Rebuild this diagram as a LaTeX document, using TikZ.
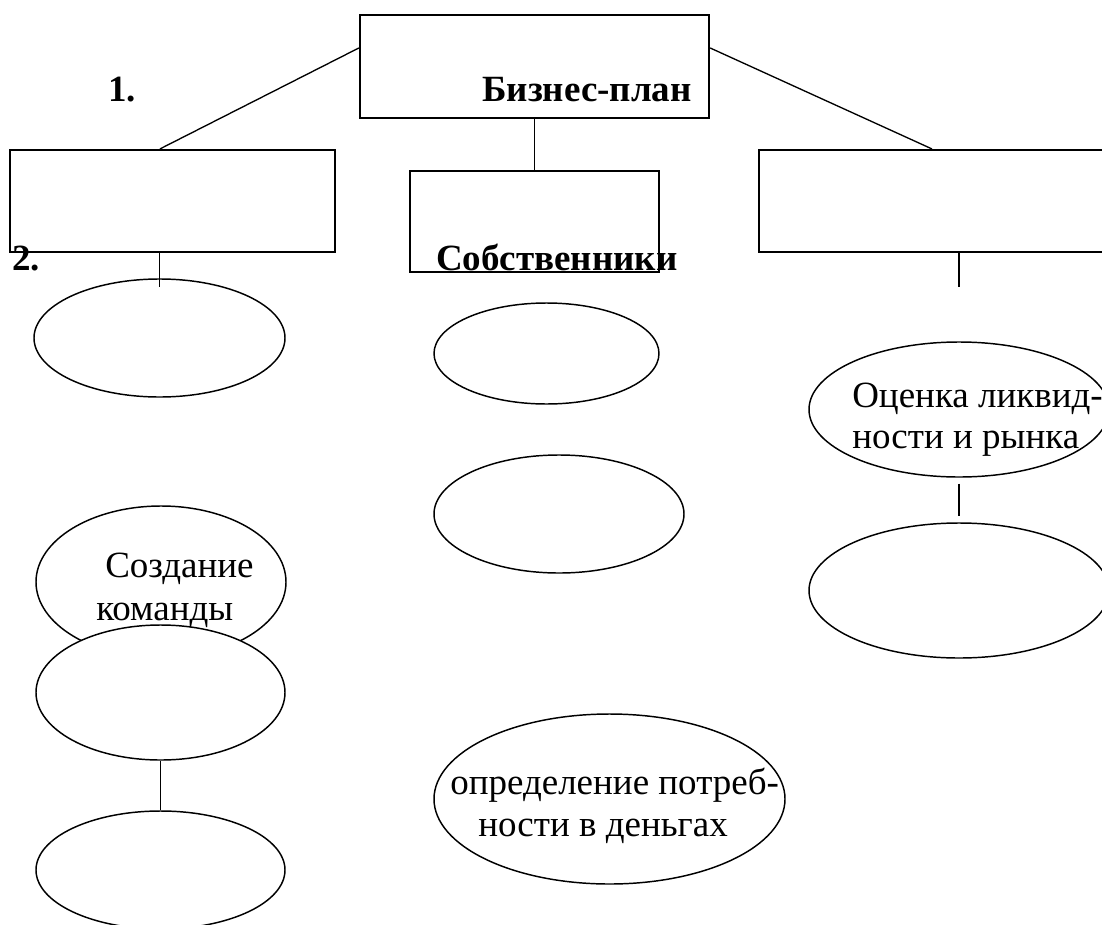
\documentclass[tikz,border=0pt]{standalone}
\usepackage{fontspec}
\setmainfont{Liberation Serif}
\usetikzlibrary{shapes.geometric,calc}
\begin{document}
\begin{tikzpicture}[x=0.75pt,y=-0.75pt,
  boxnode/.style={draw,line width=1.6pt,rectangle,inner sep=0pt},
  ell/.style={draw,line width=1.1pt,ellipse,inner sep=0pt,fill=white},
  conn/.style={line width=1pt},
  txt/.style={inner sep=0pt,font=\fontsize{27.75}{32}\selectfont},
  btxt/.style={inner sep=0pt,font=\fontsize{27.75}{32}\selectfont\bfseries}]
\useasboundingbox (0,0) rectangle (1102,924);
\clip (0,0) rectangle (1102,924);
% boxes
\node[boxnode,minimum width=261.75pt,minimum height=77.25pt] (top) at (534.5,66.5) {};
\node[boxnode,minimum width=243.75pt,minimum height=76.5pt] (lbox) at (172.5,201) {};
\node[boxnode,minimum width=186.75pt,minimum height=75.75pt] (mbox) at (534.5,221.5) {};
\node[boxnode,minimum width=263.25pt,minimum height=76.5pt] (rbox) at (934.5,201) {};
% ellipses
\node[ell,minimum width=188.25pt,minimum height=88.5pt] (E1) at (159.5,338) {};
\node[ell,minimum width=168.75pt,minimum height=75.75pt] (E2) at (546.5,353.5) {};
\node[ell,minimum width=225pt,minimum height=101.25pt] (E3) at (959,409.5) {};
\node[ell,minimum width=187.5pt,minimum height=88.5pt] (E4) at (559,514) {};
\node[ell,minimum width=187.5pt,minimum height=114pt] (E5) at (161,582) {};
\node[ell,minimum width=186.75pt,minimum height=101.25pt] (E6) at (160.5,692.5) {};
\node[ell,minimum width=186.75pt,minimum height=88.5pt] (E7) at (160.5,870) {};
\node[ell,minimum width=225pt,minimum height=101.25pt] (E8) at (959,590.5) {};
\node[ell,minimum width=263.25pt,minimum height=127.5pt] (E9) at (609.5,799) {};
% connectors
\draw[conn] ($(top.north west)+(0,34)$) -- ($(lbox.north west)+(151,0)$);
\draw[conn] ($(top.north east)+(0,34)$) -- ($(rbox.north west)+(174,0)$);
\draw[conn] (top.south) -- (mbox.north);
\draw[conn] (lbox.south -| E1.north) -- ++(0,34);
\draw[conn] (rbox.south -| E3.north) -- ++(0,34);
\draw[conn] ($(E3.south)+(0,6)$) -- ($(E8.north)+(0,-6)$);
\draw[conn] (E6.south) -- (E7.north);
% texts
\node[btxt,anchor=base west] (n1) at (108,101) {1.};
\node[btxt,anchor=base east] (tbp) at (692,101) {Бизнес-план};
\node[btxt,anchor=base west] (n2) at (12,270) {2.};
\node[btxt,anchor=base west] (tsob) at (436,270) {Собственники};
\node[txt,anchor=base west] (t5a) at (105,577) {Создание};
\node[txt,anchor=base west] (t5b) at (96,620) {команды};
\node[txt,anchor=base west] (t3a) at (852,407) {Оценка ликвид-};
\node[txt,anchor=base west] (t3b) at (852,448) {ности и рынка};
\node[txt,anchor=base west] (t9a) at (450,794) {определение потреб-};
\node[txt,anchor=base west] (t9b) at (478,836) {ности в деньгах};
\end{tikzpicture}
\end{document}
